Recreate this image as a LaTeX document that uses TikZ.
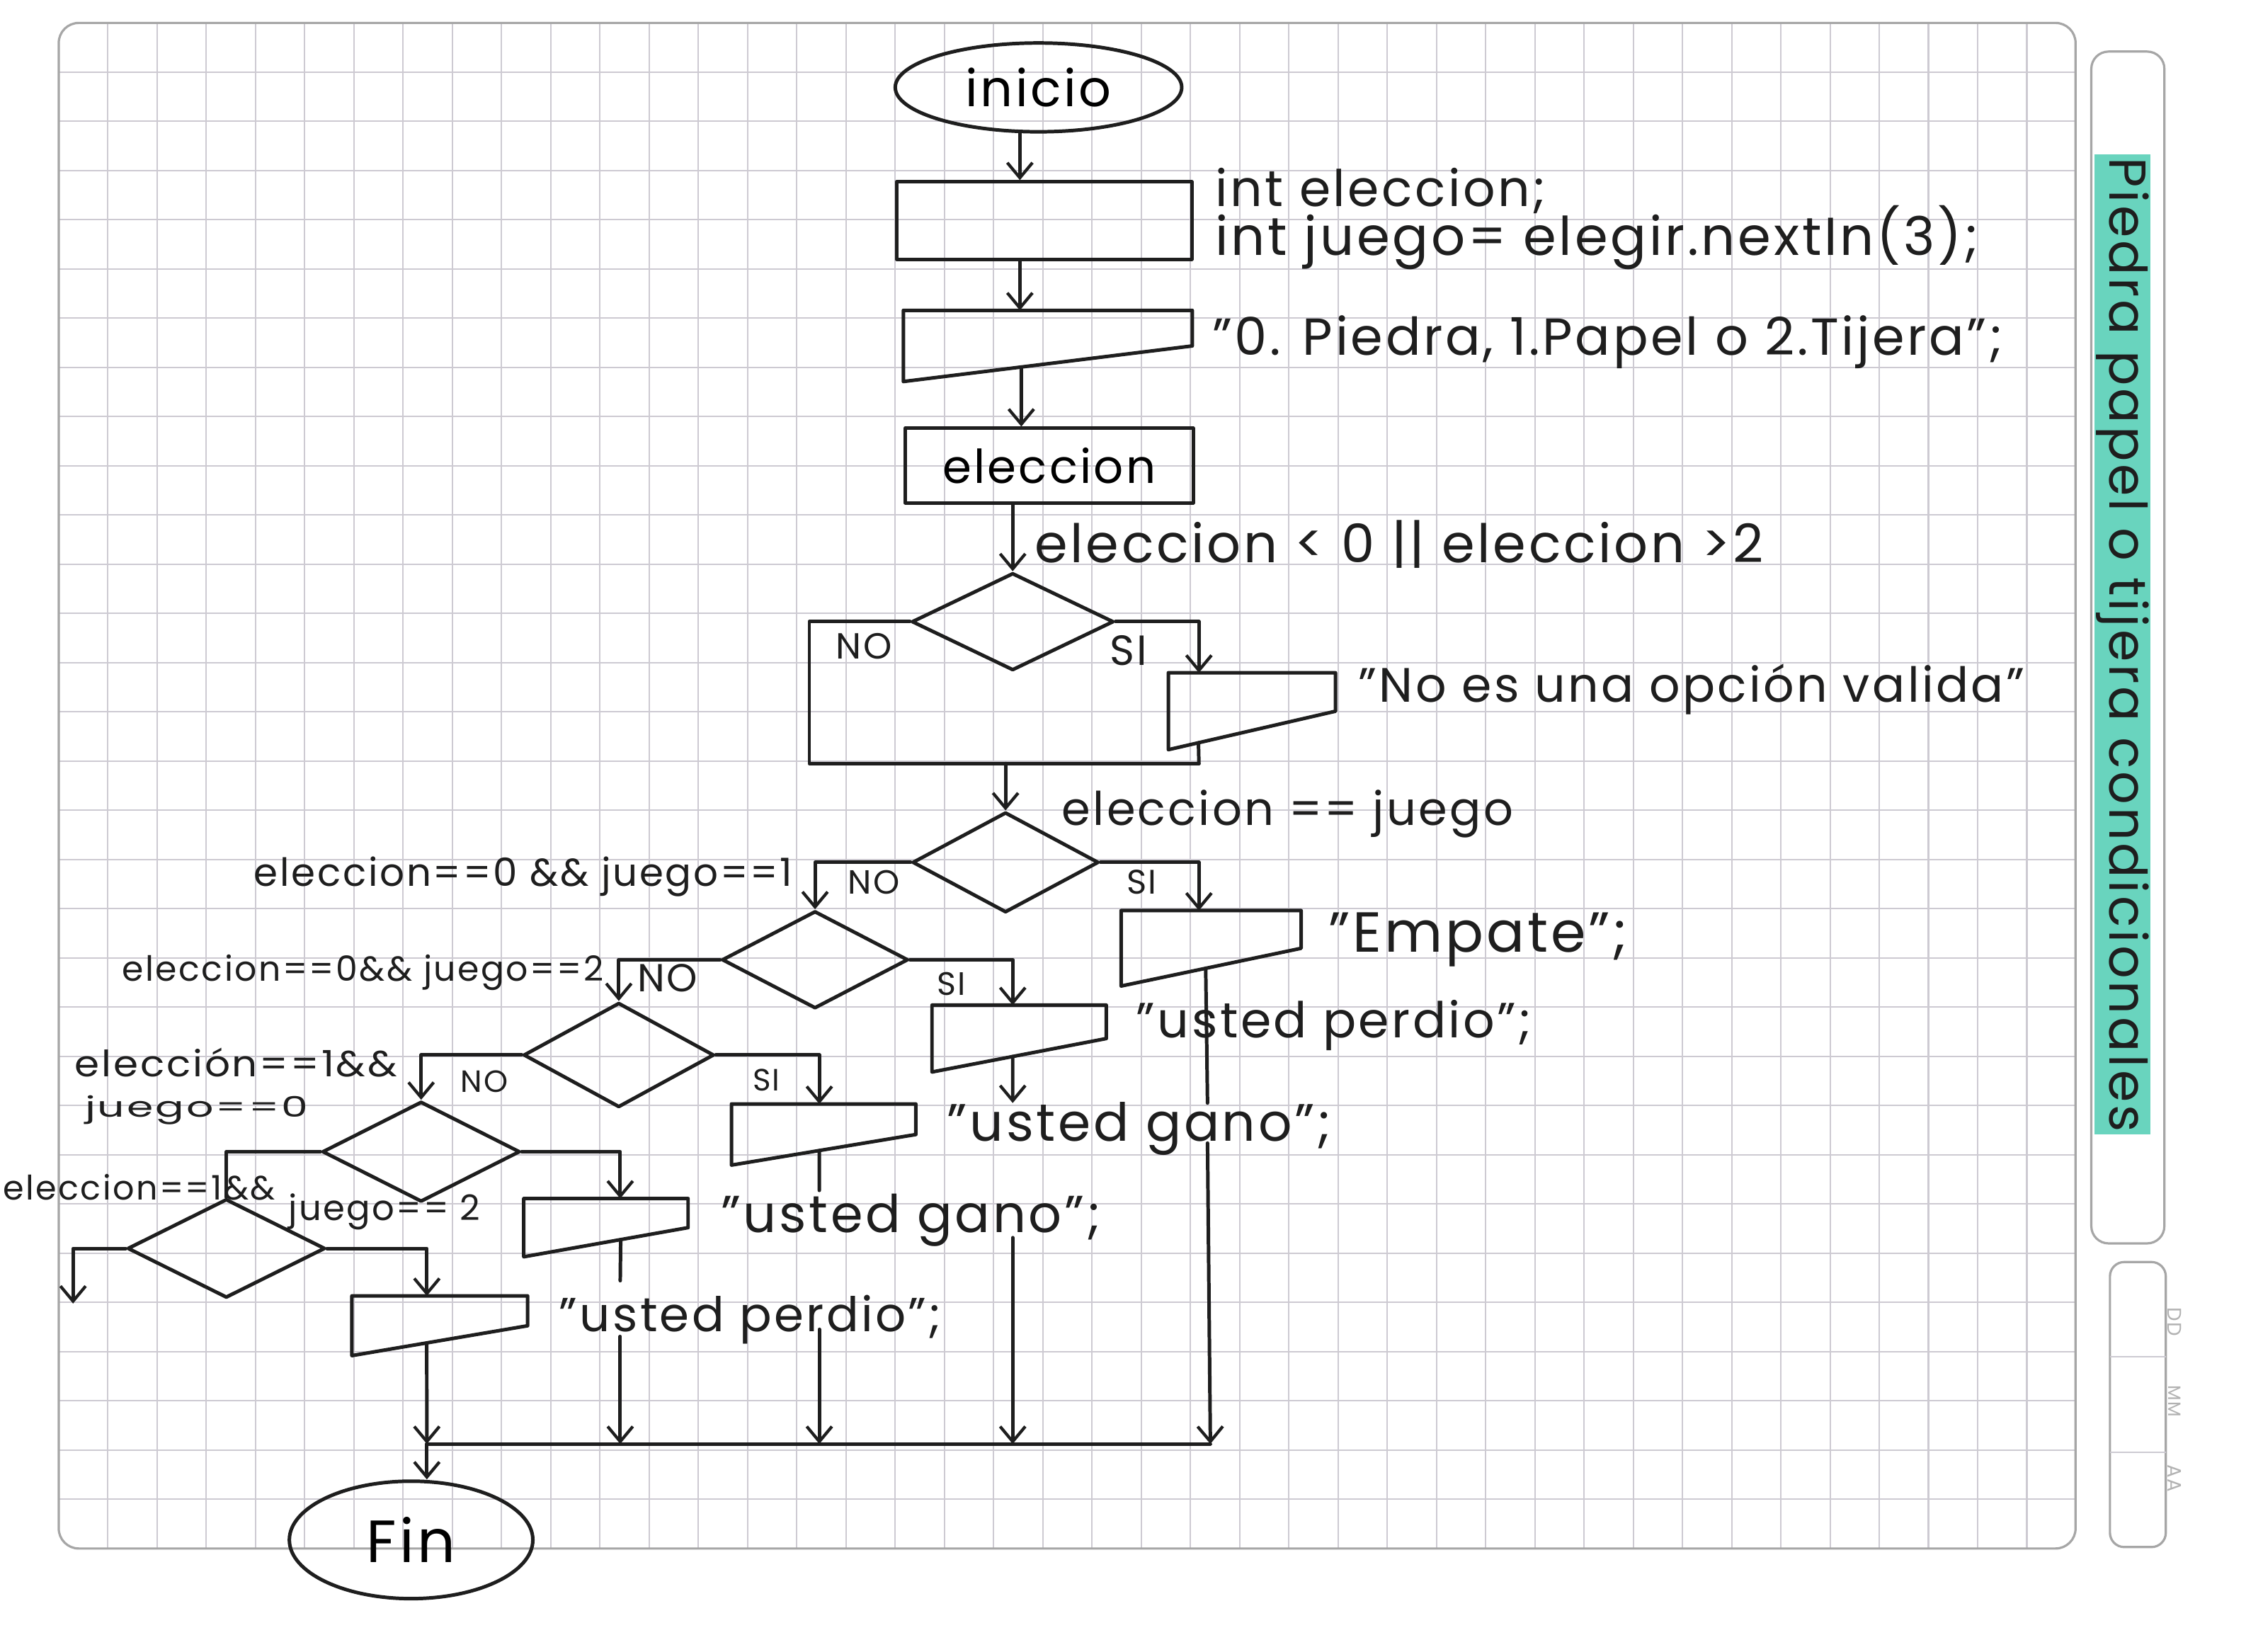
\documentclass[tikz,border=0pt]{standalone}
\usepackage{graphicx}
\usepackage{fontspec}
\setmainfont{Poppins}[LetterSpace=5]
\usetikzlibrary{shapes.geometric,arrows.meta,calc}
\newlength\dsu
\setlength\dsu{0.02cm}
\newcommand\fitw[2]{\resizebox{#1\dsu}{!}{#2}}
\newcommand\fitwh[3]{\resizebox{#1\dsu}{#2\dsu}{#3}}
\definecolor{ink}{RGB}{30,30,30}
\definecolor{gridc}{RGB}{205,202,210}
\definecolor{hl}{RGB}{105,212,190}
\tikzset{
  ln/.style={line width=1.4pt, draw=ink, line cap=round, line join=round},
  arr/.style={ln, -{Straight Barb[length=6pt,width=10pt,line width=1.2pt]}},
  gridl/.style={draw=gridc, line width=0.6pt},
  frame/.style={draw=gray!70, line width=0.9pt},
  dia/.style={diamond, ln, inner sep=0pt},
  outs/.style={inner sep=0pt, draw=none},
  txt/.style={inner sep=0pt, anchor=west, text=ink},
  ctxt/.style={inner sep=0pt, text=ink},
}
\begin{document}
\begin{tikzpicture}[x=0.02cm, y=-0.02cm]
\useasboundingbox (0,0) rectangle (1568,1153);
\fill[white] (0,0) rectangle (1568,1153);
% paper grid
\foreach \i in {1,...,40} \draw[gridl] ({41+34.35*\i},16) -- ({41+34.35*\i},1081);
\foreach \j in {1,...,30} \draw[gridl] (41,{16+34.35*\j}) -- (1449,{16+34.35*\j});
\draw[frame, rounded corners=14\dsu] (41,16) rectangle (1449,1081);
% side tabs
\draw[frame, rounded corners=12\dsu] (1460,36) rectangle (1511,868);
\draw[frame, rounded corners=10\dsu] (1473,881) rectangle (1512,1080);
\draw[gridl] (1473,947) -- (1512,947);
\draw[gridl] (1473,1014) -- (1512,1014);
\fill[hl] (1462,108) rectangle (1501,792);
\node[rotate=-90, ctxt] (title) at (1482,450) {\fitw{680}{Piedra papel o tijera condicionales}};
\node[rotate=-90, inner sep=0pt, text=gray!60] (dd) at (1518,923) {\fitw{20}{DD}};
\node[rotate=-90, inner sep=0pt, text=gray!60] (mm) at (1518,978) {\fitw{22}{MM}};
\node[rotate=-90, inner sep=0pt, text=gray!60] (aa) at (1518,1032) {\fitw{19}{AA}};

% nodes
\node[ln, ellipse, minimum width=200\dsu, minimum height=62\dsu, inner sep=0pt] (ini) at (725,61) {\fitw{102}{inicio}};
\node[ln, rectangle, minimum width=206\dsu, minimum height=54\dsu, inner sep=0pt] (b1) at (729,154) {};
\node[outs, minimum width=201\dsu, minimum height=49\dsu] (o1) at (731.5,241.5) {};
\node[ln, rectangle, minimum width=201\dsu, minimum height=52\dsu, inner sep=0pt] (b3) at (732.5,325) {\fitw{149}{eleccion}};
\node[dia, minimum width=141\dsu, minimum height=68\dsu] (d1) at (707,434) {};
\node[outs, minimum width=116\dsu, minimum height=53\dsu] (o2) at (874,496.5) {};
\node[dia, minimum width=130\dsu, minimum height=70\dsu] (d2) at (702,602) {};
\node[outs, minimum width=125\dsu, minimum height=52\dsu] (o3) at (845.5,662) {};
\node[dia, minimum width=130\dsu, minimum height=68\dsu] (d3) at (569,670) {};
\node[outs, minimum width=121\dsu, minimum height=46\dsu] (o4) at (711.5,725) {};
\node[dia, minimum width=133\dsu, minimum height=73\dsu] (d4) at (432,736.5) {};
\node[outs, minimum width=128\dsu, minimum height=42\dsu] (o5) at (575,792) {};
\node[dia, minimum width=138\dsu, minimum height=70\dsu] (d5) at (294,804) {};
\node[outs, minimum width=114\dsu, minimum height=40\dsu] (o6) at (423,857) {};
\node[dia, minimum width=138\dsu, minimum height=69\dsu] (d6) at (158,871.5) {};
\node[outs, minimum width=122\dsu, minimum height=41\dsu] (o7) at (307,925.5) {};
\node[ln, ellipse, minimum width=170\dsu, minimum height=82\dsu, inner sep=0pt] (fin) at (287,1075) {\fitw{62}{Fin}};
\foreach \o in {o1,o2,o3,o4,o5,o6,o7}
  \draw[ln] (\o.north west) -- (\o.north east) -- (\o.east) -- (\o.south west) -- cycle;

% connectors
\coordinate (k1) at (712,0);
\coordinate (k2) at (713,0);
\draw[arr] (ini.south -| k1) -- (b1.north -| k1);
\draw[arr] (b1.south -| k1) -- (o1.north -| k1);
\draw[arr] ($(o1.south west)!0.408!(o1.east)$) -- (b3.north -| k2);
\draw[arr] (b3.south -| d1.north) -- (d1.north);
% D1
\coordinate (c1) at (565,434);
\coordinate (c2) at (565,533);
\coordinate (c3) at (837,533);
\coordinate (c4) at (837,434);
\coordinate (m1) at (702,533);
\draw[ln] (d1.west) -- (c1) -- (c2) -- (c3);
\draw[arr] (d1.east) -- (c4) -- (o2.north -| c4);
\draw[ln] ($(o2.south west)!0.18!(o2.east)$) -- (c3);
\draw[arr] (m1) -- (d2.north);
% D2
\coordinate (c5) at (569,602);
\coordinate (c6) at (837,602);
\draw[arr] (d2.west) -- (c5) -- (d3.north);
\draw[arr] (d2.east) -- (c6) -- (o3.north -| c6);
\coordinate (g1) at (843,770);
\coordinate (g2) at (843,798);
\coordinate (e5) at (845,1008);
\draw[ln] ($(o3.south west)!0.47!(o3.east)$) -- (g1);
\draw[arr] (g2) -- (e5);
% D3
\coordinate (c7) at (432,670);
\coordinate (c8) at (707,670);
\draw[arr] (d3.west) -- (c7) -- (d4.north);
\draw[arr] (d3.east) -- (c8) -- (o4.north -| c8);
\coordinate (g3) at (707,770);
\coordinate (g4) at (707,864);
\coordinate (e4) at (707,1008);
\draw[arr] ($(o4.south west)!0.463!(o4.east)$) -- (g3);
\draw[arr] (g4) -- (e4);
% D4
\coordinate (c9) at (294,736.5);
\coordinate (c10) at (572,736.5);
\draw[arr] (d4.west) -- (c9) -- (d5.north);
\draw[arr] (d4.east) -- (c10) -- (o5.north -| c10);
\coordinate (g5) at (572,831);
\coordinate (g6) at (572,928);
\coordinate (e3) at (572,1008);
\draw[ln] ($(o5.south west)!0.477!(o5.east)$) -- (g5);
\draw[arr] (g6) -- (e3);
% D5
\coordinate (c11) at (158,804);
\coordinate (c12) at (433,804);
\draw[ln] (d5.west) -- (c11) -- (d6.north);
\draw[arr] (d5.east) -- (c12) -- (o6.north -| c12);
\coordinate (g7) at (433,894);
\coordinate (g8) at (433,933);
\coordinate (e2) at (433,1008);
\draw[ln] ($(o6.south west)!0.59!(o6.east)$) -- (g7);
\draw[arr] (g8) -- (e2);
% D6
\coordinate (c13) at (51,871.5);
\coordinate (c14) at (51,910);
\coordinate (c15) at (298,871.5);
\draw[arr] (d6.west) -- (c13) -- (c14);
\draw[arr] (d6.east) -- (c15) -- (o7.north -| c15);
\coordinate (e1) at (298,1008);
\draw[arr] ($(o7.south west)!0.426!(o7.east)$) -- (e1);
% merge and end
\draw[ln] (e1) -- (e5);
\draw[arr] (e1) -- (fin.north -| e1);

% labels
\node[txt] (t1) at (848,133) {\fitw{231}{int eleccion;}};
\node[txt] (t2) at (848,166) {\fitw{533}{int juego= elegir.nextIn(3);}};
\node[txt] (t3) at (846,239) {\fitw{552}{"0. Piedra, 1.Papel o 2.Tijera";}};
\node[txt] (t5) at (722,380) {\fitw{509}{eleccion < 0 || eleccion >2}};
\node[ctxt] (t6) at (603,451) {\fitw{39}{NO}};
\node[ctxt] (t7) at (788,454) {\fitw{26}{SI}};
\node[txt] (t8) at (948,481) {\fitw{465}{"No es una opción valida"}};
\node[txt] (t9) at (741,568) {\fitw{315}{eleccion == juego}};
\node[ctxt] (t10) at (610,616) {\fitw{36}{NO}};
\node[ctxt] (t11) at (797,616) {\fitw{21}{SI}};
\node[txt] (t12) at (927,656) {\fitw{209}{"Empate";}};
\node[txt] (t13) at (177,612) {\fitw{376}{eleccion==0 \&\& juego==1}};
\node[ctxt] (t14) at (466,683) {\fitw{42}{NO}};
\node[txt] (t15) at (85,679) {\fitw{336}{eleccion==0\&\& juego==2}};
\node[ctxt] (t16) at (664,687) {\fitw{20}{SI}};
\node[txt] (t17) at (793,716) {\fitw{276}{"usted perdio";}};
\node[ctxt] (t18) at (338,755) {\fitw{33}{NO}};
\node[txt] (t19) at (52,742) {\fitwh{225}{20}{elección==1\&\&}};
\node[txt] (t20) at (59,775) {\fitwh{156}{15}{juego==0}};
\node[ctxt] (t21) at (535,754) {\fitw{19}{SI}};
\node[txt] (t22) at (661,788) {\fitw{268}{"usted gano";}};
\node[txt] (t23) at (2,829) {\fitw{190}{eleccion==1\&\&}};
\node[txt] (t24) at (201,846) {\fitw{134}{juego== 2}};
\node[txt] (t25) at (503,852) {\fitw{265}{"usted gano";}};
\node[txt] (t26) at (390,921) {\fitw{267}{"usted perdio";}};
\end{tikzpicture}
\end{document}
